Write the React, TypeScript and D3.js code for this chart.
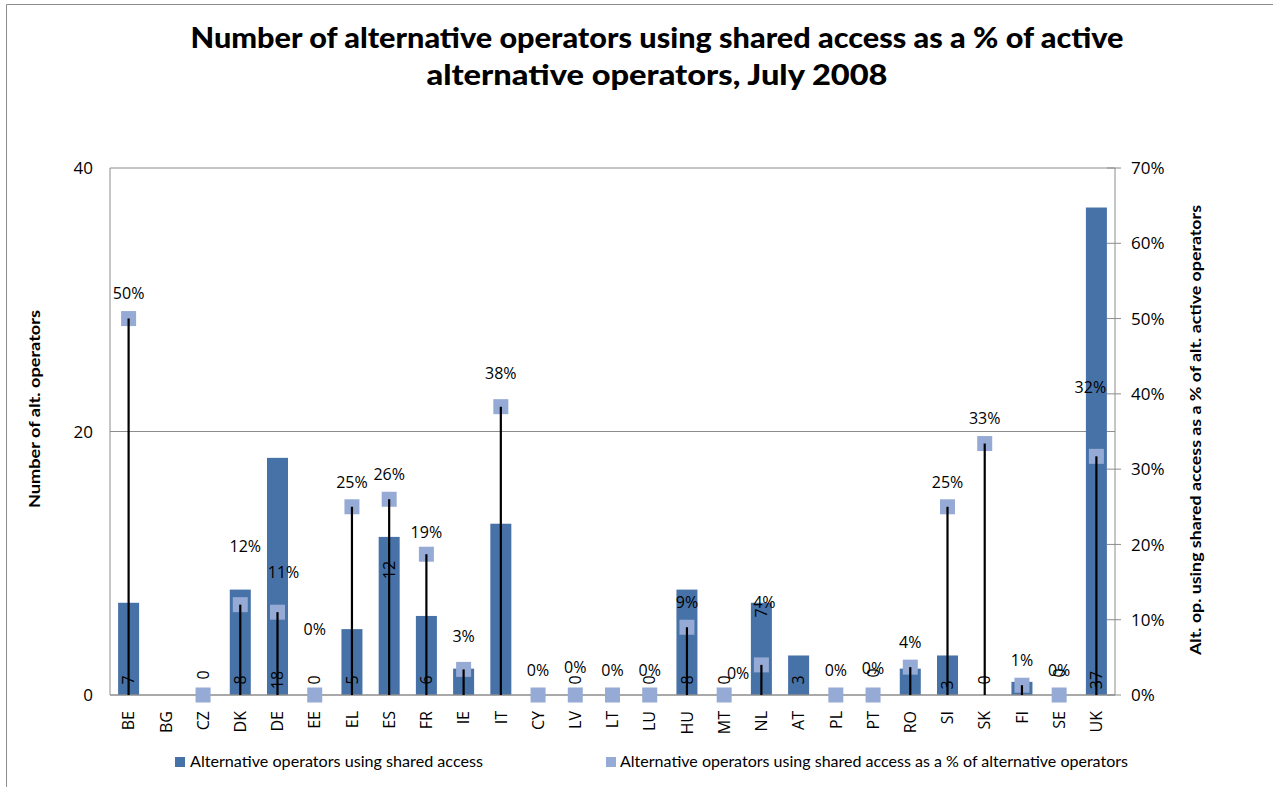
import React from "react";
import * as d3 from "d3";

const categories = ["BE","BG","CZ","DK","DE","EE","EL","ES","FR","IE","IT","CY","LV","LT","LU","HU","MT","NL","AT","PL","PT","RO","SI","SK","FI","SE","UK"];
const operators: (number | null)[] = [7,null,0,8,18,0,5,12,6,2,13,null,0,null,0,8,0,7,3,null,0,2,3,0,1,0,37];
const sharePct: (number | null)[] = [0.50,null,0,0.12,0.11,0,0.25,0.26,0.187,0.034,0.383,0,0,0,0,0.09,0,0.04,null,0,0,0.037,0.25,0.334,0.013,0,0.317];
const hiddenCountLabels = ["IE","IT","RO"];
const hiddenPctLabels = ["CZ"];
const leftTicks = [0,20,40];
const rightTicks = [0,0.1,0.2,0.3,0.4,0.5,0.6,0.7];
const titleLines = ["Number of alternative operators using shared access as a % of active","alternative operators, July 2008"];
const leftTitle = "Number of alt. operators";
const rightTitle = "Alt. op. using shared access as a % of alt. active operators";
const legendLabels = ["Alternative operators  using shared access","Alternative operators  using shared access as a % of alternative operators"];

// layout tweaks for label placement (pixels), mirroring the original label positions
const pctLabelDy: Record<string, number> = { DK: -58, DE: -40, EE: -66, IE: -33, IT: -33, LV: -28, NL: -63, PT: -27, UK: -69, FR: -22, MT: -22 };
const pctLabelDx: Record<string, number> = { DK: 5, DE: 6, MT: 14, NL: 3, UK: -6 };
const countLabelDy: Record<string, number> = { ES: -110, NL: -67, CZ: -5, SE: -7, PT: -7, SI: 5 };

const BAR = "#4672A8";
const MARK = "#95AAD4";
const GRID = "#8c8c8c";

export default function App() {
  const left = 110, right = 1115, top = 168, bottom = 695;
  const x = d3.scaleBand<string>().domain(categories).range([left, right]);
  const bw = x.bandwidth();
  const cx = (c: string) => (x(c) as number) + bw / 2;
  const yL = d3.scaleLinear().domain([0, 40]).range([bottom, top]);
  const yR = d3.scaleLinear().domain([0, 0.7]).range([bottom, top]);
  const barW = 21;
  const ms = 15;
  const lblFont = "'Open Sans', 'Noto Sans', sans-serif";
  const headFont = "Lato, 'Open Sans', sans-serif";
  const pct = d3.format(".0%");

  return (
    <svg width={1273} height={787} style={{ position: "absolute", left: 0, top: 0, background: "#fff" }}>
      <rect x={0} y={0} width={1273} height={787} fill="#fff" />
      {/* outer chart border */}
      <line x1={6.5} y1={4.5} x2={1273} y2={4.5} stroke={GRID} />
      <line x1={6.5} y1={4.5} x2={6.5} y2={787} stroke={GRID} />

      {/* title */}
      {titleLines.map((t, i) => (
        <text key={i} x={657} y={48 + i * 37} textAnchor="middle" fontFamily={headFont} fontWeight={900} fontSize={29}
          textLength={i === 0 ? 933 : 461} lengthAdjust="spacingAndGlyphs">{t}</text>
      ))}

      {/* gridlines */}
      {leftTicks.filter(t => t > 0).map(t => (
        <line key={t} x1={left} x2={right} y1={yL(t)} y2={yL(t)} stroke={GRID} strokeWidth={1} />
      ))}
      {/* axes */}
      <line x1={left} x2={left} y1={top} y2={bottom} stroke={GRID} />
      <line x1={right} x2={right} y1={top} y2={bottom} stroke={GRID} />
      {rightTicks.map(t => (
        <line key={t} x1={right - 8} x2={right + 6} y1={yR(t)} y2={yR(t)} stroke={GRID} />
      ))}

      {/* left ticks */}
      {leftTicks.map(t => (
        <text key={t} x={93} y={yL(t)} dy="0.36em" textAnchor="end" fontFamily={lblFont} fontSize={17} fill="#000">{t}</text>
      ))}
      {rightTicks.map(t => (
        <text key={t} x={1131} y={yR(t)} dy="0.36em" textAnchor="start" fontFamily={lblFont} fontSize={17} fill="#000">{pct(t)}</text>
      ))}

      {/* axis titles */}
      <text transform={`translate(40,409) rotate(-90)`} textAnchor="middle" fontFamily={headFont} fontWeight={700} fontSize={15}
        textLength={198} lengthAdjust="spacingAndGlyphs">{leftTitle}</text>
      <text transform={`translate(1201,430) rotate(-90)`} textAnchor="middle" fontFamily={headFont} fontWeight={700} fontSize={15}
        textLength={450} lengthAdjust="spacingAndGlyphs">{rightTitle}</text>

      {/* bars */}
      {categories.map((c, i) => {
        const v = operators[i];
        if (v == null || v <= 0) return null;
        return <rect key={c} x={cx(c) - barW / 2} y={yL(v)} width={barW} height={bottom - yL(v)} fill={BAR} />;
      })}
      {/* baseline */}
      <line x1={left} x2={right} y1={bottom} y2={bottom} stroke={GRID} strokeWidth={1.5} />

      {/* count labels */}
      {categories.map((c, i) => {
        const v = operators[i];
        if (v == null || hiddenCountLabels.includes(c)) return null;
        const yy = bottom - 15 + (countLabelDy[c] || 0);
        return (
          <text key={c} transform={`translate(${cx(c)},${yy}) rotate(-90)`} textAnchor="middle" dy="0.36em"
            fontFamily={lblFont} fontSize={16} fill="#000">{v}</text>
        );
      })}

      {/* markers */}
      {categories.map((c, i) => {
        const v = sharePct[i];
        if (v == null) return null;
        return <rect key={c} x={cx(c) - ms / 2} y={yR(v) - ms / 2} width={ms} height={ms} fill={MARK} />;
      })}
      {/* drop lines */}
      {categories.map((c, i) => {
        const v = sharePct[i];
        if (v == null || v <= 0) return null;
        return <line key={c} x1={cx(c)} x2={cx(c)} y1={yR(v)} y2={bottom} stroke="#000" strokeWidth={2.2} />;
      })}
      {/* pct labels */}
      {categories.map((c, i) => {
        const v = sharePct[i];
        if (v == null || hiddenPctLabels.includes(c)) return null;
        const yy = yR(v) + (pctLabelDy[c] ?? -25);
        return (
          <text key={c} x={cx(c) + (pctLabelDx[c] || 0)} y={yy} dy="0.36em" textAnchor="middle"
            fontFamily={lblFont} fontSize={16} fill="#000">{pct(v)}</text>
        );
      })}

      {/* category labels */}
      {categories.map(c => (
        <text key={c} transform={`translate(${cx(c)},711) rotate(-90)`} textAnchor="end" dy="0.36em"
          fontFamily={lblFont} fontSize={16} fill="#000">{c}</text>
      ))}

      {/* legend */}
      <rect x={175} y={757} width={10} height={10} fill={BAR} />
      <text x={190} y={762} dy="0.36em" fontFamily={headFont} fontSize={15} textLength={293} lengthAdjust="spacingAndGlyphs">{legendLabels[0]}</text>
      <rect x={606} y={757} width={10} height={10} fill={MARK} />
      <text x={620} y={762} dy="0.36em" fontFamily={headFont} fontSize={15} textLength={508} lengthAdjust="spacingAndGlyphs">{legendLabels[1]}</text>
    </svg>
  );
}
